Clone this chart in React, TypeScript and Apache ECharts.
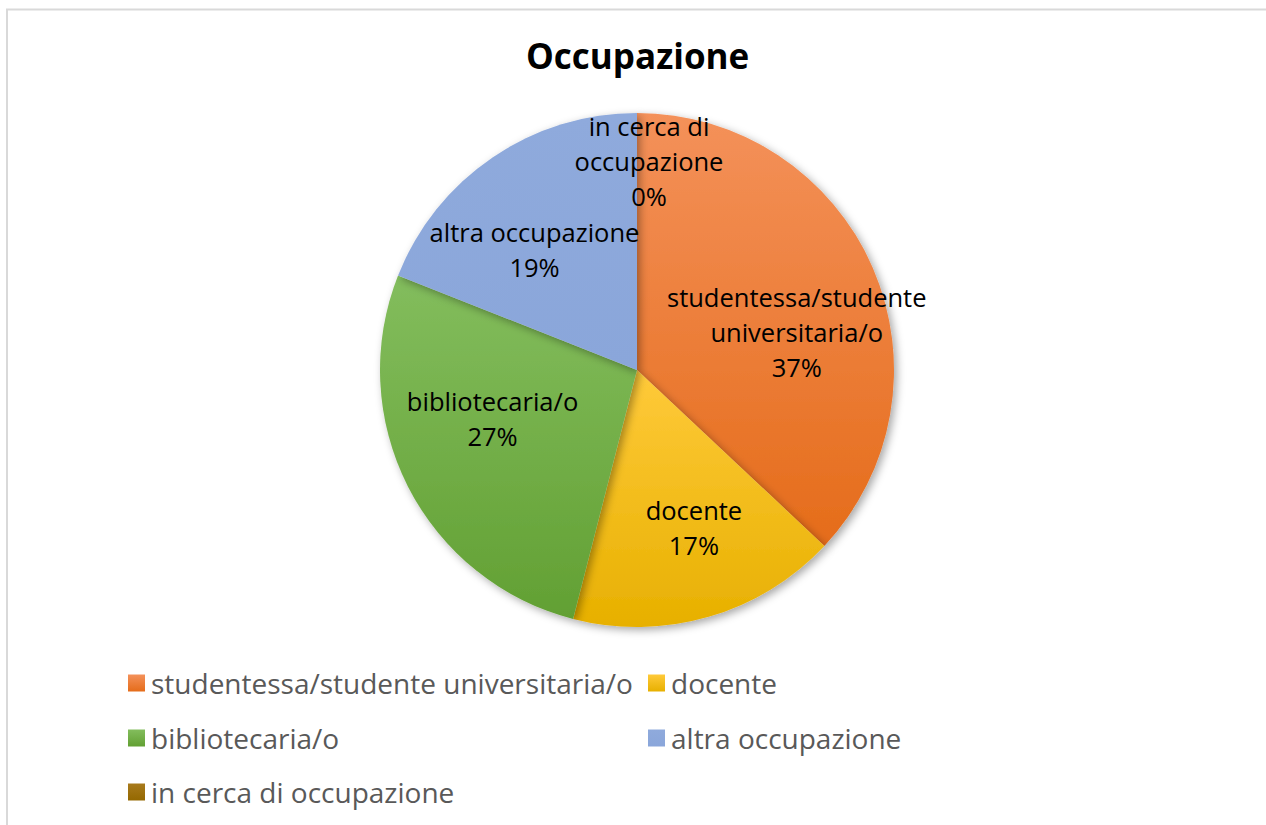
import React, { useEffect, useRef } from "react";
import * as echarts from "echarts";

const categories = [
  "studentessa/studente universitaria/o",
  "docente",
  "bibliotecaria/o",
  "altra occupazione",
  "in cerca di occupazione",
];
const labelNames = [
  "studentessa/studente\nuniversitaria/o",
  "docente",
  "bibliotecaria/o",
  "altra occupazione",
  "in cerca di\noccupazione",
];
const values = [37, 17, 27, 19, 0];
const colorsTop = ["#f4915a", "#ffca3a", "#83bd5d", "#8faadc", "#a87a1c"];
const colorsBottom = ["#e56c1a", "#e7b000", "#62a033", "#8aa6da", "#946800"];
const legendPos = [
  [128, 668],
  [648, 668],
  [128, 723],
  [648, 723],
  [128, 777],
];
// label nudges (dx, dy) to mimic Excel's best-fit placement
const labelShift = [
  [12, 26],
  [12, 3],
  [-1, -25],
  [-12, 13],
  [12, -48],
];

const FONT = "'Open Sans', Lato, sans-serif";

export default function App() {
  const ref = useRef<HTMLDivElement>(null);
  useEffect(() => {
    document.body.style.margin = "0";
    const chart = echarts.init(ref.current!, undefined, { renderer: "svg" });
    const grad = (i: number) =>
      new echarts.graphic.LinearGradient(0, 0, 0, 1, [
        { offset: 0, color: colorsTop[i] },
        { offset: 1, color: colorsBottom[i] },
      ]);
    const mainData = categories.map((c, i) => ({
      name: c,
      value: values[i],
      itemStyle: { color: grad(i) },
    }));
    const labelData = categories.map((c, i) => ({ name: c, value: values[i] }));
    const legends = categories.map((c, i) => ({
      data: [c],
      left: legendPos[i][0],
      top: legendPos[i][1],
      orient: "horizontal",
      padding: 0,
      itemWidth: 17,
      itemHeight: 17,
      itemGap: 0,
      icon: "rect",
      selectedMode: false,
      textStyle: {
        fontFamily: FONT,
        fontSize: 28,
        color: "#595959",
        lineHeight: 30,
        padding: [0, 0, 0, 1],
      },
    }));
    chart.setOption({
      animation: false,
      color: colorsBottom,
      title: {
        text: "Occupazione",
        left: 521,
        top: 33,
        textStyle: {
          fontFamily: FONT,
          fontSize: 35,
          fontWeight: "bold",
          color: "#000",
        },
      },
      graphic: [
        {
          type: "rect",
          z: -10,
          silent: true,
          shape: { x: 7, y: 9.5, width: 1400, height: 1000 },
          style: { fill: "#fff", stroke: "#d9d9d9", lineWidth: 2 },
        },
      ],
      legend: legends,
      series: [
        {
          type: "pie",
          center: [637, 370],
          radius: [0, 257],
          startAngle: 90,
          clockwise: true,
          silent: true,
          label: { show: false },
          labelLine: { show: false },
          itemStyle: {
            borderWidth: 0,
            shadowBlur: 8,
            shadowOffsetX: 3,
            shadowOffsetY: 3,
            shadowColor: "rgba(0,0,0,0.35)",
          },
          data: mainData,
          z: 2,
        },
        {
          type: "pie",
          center: [637, 370],
          radius: [0, 316],
          startAngle: 90,
          clockwise: true,
          silent: true,
          avoidLabelOverlap: false,
          itemStyle: { color: "rgba(0,0,0,0)", borderWidth: 0 },
          label: {
            show: true,
            position: "inside",
            fontFamily: FONT,
            fontSize: 25.5,
            lineHeight: 35,
            color: "#000",
            formatter: (p: any) => `${labelNames[p.dataIndex]}\n${p.value}%`,
          },
          labelLayout: (p: any) => ({
            dx: labelShift[p.dataIndex][0],
            dy: labelShift[p.dataIndex][1],
            hideOverlap: false,
          }),
          labelLine: { show: false },
          data: labelData,
          z: 3,
        },
      ],
    });
    return () => chart.dispose();
  }, []);
  return (
    <div
      ref={ref}
      style={{ position: "absolute", left: 0, top: 0, width: 1266, height: 825 }}
    />
  );
}
